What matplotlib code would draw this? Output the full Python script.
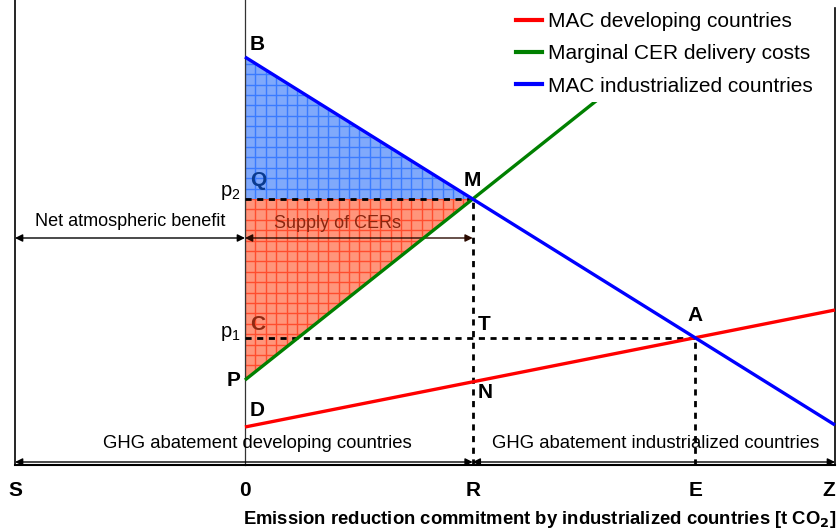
import numpy as np
import matplotlib
matplotlib.use("Agg")
import matplotlib.pyplot as plt
from matplotlib.patches import Polygon
from matplotlib.lines import Line2D

plt.rcParams['font.family'] = ['Liberation Sans', 'DejaVu Sans']
plt.rcParams['mathtext.default'] = 'regular'

# ---- data (diagram units) ----
axis_labels = ['S', '0', 'R', 'E', 'Z']
x_S, x_Z = -230, 590
curve_x = [0, 590]
mac_ind = [408, 40]        # MAC industrialized countries (B -> right edge)
mac_dev = [38, 155]        # MAC developing countries (D -> right edge)
cer_x = [0, 385]
cer_cost = [85, 391]       # Marginal CER delivery costs (P -> ...)
legend_labels = ['MAC developing countries', 'Marginal CER delivery costs',
                 'MAC industrialized countries']

def line_coef(xs, ys):
    m = (ys[1] - ys[0]) / (xs[1] - xs[0])
    return m, ys[0] - m * xs[0]

mi, bi = line_coef(curve_x, mac_ind)
md, bd = line_coef(curve_x, mac_dev)
mc, bc = line_coef(cer_x, cer_cost)
xM = (bc - bi) / (mi - mc); yM = mi * xM + bi
xA = (bd - bi) / (mi - md); yA = mi * xA + bi
x_R, x_E = xM, xA
p2, p1 = yM, yA

fig = plt.figure(figsize=(8.39, 5.31), dpi=100)
ax = fig.add_axes([0, 0, 1, 1])
ax.set_xlim(-245, 594)
ax.set_ylim(-66, 465)
ax.axis('off')

# filled triangles with grid
blue_tri = Polygon([[0, mac_ind[0]], [xM, yM], [0, yM]], closed=True,
                   facecolor='#80a9fb', edgecolor='none', zorder=1)
red_tri = Polygon([[0, yM], [xM, yM], [0, cer_cost[0]]], closed=True,
                  facecolor='#ff957b', edgecolor='none', zorder=1)
ax.add_patch(blue_tri)
ax.add_patch(red_tri)
step = 10.4
for tri, col in [(blue_tri, '#3a7bff'), (red_tri, '#ff4d2e')]:
    for gx in np.arange(0, xM + step, step):
        ln, = ax.plot([gx, gx], [0, 465], color=col, lw=1.0, zorder=1.5)
        ln.set_clip_path(tri)
    for gy in np.arange(yM - 30 * step, yM + 30 * step, step):
        ln, = ax.plot([0, xM], [gy, gy], color=col, lw=1.0, zorder=1.5)
        ln.set_clip_path(tri)

# frame lines
ax.plot([x_S, x_S], [0, 465], color='black', lw=1.2, zorder=2)
ax.plot([0, 0], [0, 465], color='#333333', lw=0.9, zorder=2)
ax.plot([x_Z, x_Z], [0, 457], color='black', lw=1.2, zorder=2)
ax.plot([x_S, x_Z], [0, 0], color='black', lw=1.5, zorder=2)

# dashed guides
dash = dict(color='black', lw=2.0, linestyle=(0, (2.2, 2.0)), zorder=3)
ax.plot([0, xM], [p2, p2], **dash)
ax.plot([0, xA], [p1, p1], **dash)
ax.plot([x_R, x_R], [0, yM], **dash)
ax.plot([x_E, x_E], [0, yA], **dash)

# curves
ax.plot(curve_x, mac_dev, color='#ff0000', lw=2.4, zorder=4, solid_capstyle='butt')
ax.plot(cer_x, cer_cost, color='#008000', lw=2.4, zorder=4, solid_capstyle='butt')
ax.plot(curve_x, mac_ind, color='#0000ff', lw=2.4, zorder=4, solid_capstyle='butt')

# arrows
def darrow(x0, x1, y, color='black'):
    ax.annotate('', xy=(x1, y), xytext=(x0, y),
                arrowprops=dict(arrowstyle='<|-|>', color=color, lw=1.0,
                                mutation_scale=11, shrinkA=0, shrinkB=0),
                zorder=3)

darrow(x_S, 0, 227)
darrow(0, x_R, 227, color='#2a0a00')
darrow(x_S, x_R, 3)
darrow(x_R, x_Z, 3)

# texts
fs = 13.3
ax.text(-115, 243, 'Net atmospheric benefit', ha='center', va='center', fontsize=13)
ax.text(92, 242, 'Supply of CERs', ha='center', va='center', fontsize=13, color='#8a2710')
ax.text(12, 22, 'GHG abatement developing countries', ha='center', va='center', fontsize=fs)
ax.text(411, 22, 'GHG abatement industrialized countries', ha='center', va='center', fontsize=fs)

bfs = 15
ax.text(5, 421, 'B', ha='left', va='center', fontsize=bfs, fontweight='bold')
ax.text(5, 284, 'Q', ha='left', va='center', fontsize=bfs, fontweight='bold', color='#0b3b8f')
ax.text(xM, yM + 19, 'M', ha='center', va='center', fontsize=bfs, fontweight='bold')
ax.text(5, 140, 'C', ha='left', va='center', fontsize=bfs, fontweight='bold', color='#8f2a12')
ax.text(x_R + 5, 140, 'T', ha='left', va='center', fontsize=bfs, fontweight='bold')
ax.text(-5, 85, 'P', ha='right', va='center', fontsize=bfs, fontweight='bold')
ax.text(5, 55, 'D', ha='left', va='center', fontsize=bfs, fontweight='bold')
ax.text(x_R + 5, 73, 'N', ha='left', va='center', fontsize=bfs, fontweight='bold')
ax.text(xA, yA + 22, 'A', ha='center', va='center', fontsize=bfs, fontweight='bold')
ax.text(-4, p2 + 7, r'p$_2$', ha='right', va='center', fontsize=14.5)
ax.text(-4, p1 + 4, r'p$_1$', ha='right', va='center', fontsize=14.5)

for lab, xv in zip(axis_labels, [x_S, 0, x_R, x_E, x_Z - 6]):
    ax.text(xv, -25, lab, ha='center', va='center', fontsize=bfs, fontweight='bold')

ax.text(591, -55, r'Emission reduction commitment by industrialized countries [t CO$_\mathbf{2}$]',
        ha='right', va='center', fontsize=13.3, fontweight='bold')

# legend
handles = [Line2D([], [], color=c, lw=3) for c in ['#ff0000', '#008000', '#0000ff']]
leg = ax.legend(handles, legend_labels, loc='upper left',
                bbox_to_anchor=(510 / 839, 1.0 - 6 / 531), fontsize=15, frameon=True,
                handlelength=1.25, handletextpad=0.25, labelspacing=0.63,
                borderpad=0.3, borderaxespad=0, fancybox=False)
leg.get_frame().set_facecolor('white')
leg.get_frame().set_edgecolor('none')
leg.get_frame().set_alpha(1)
leg.set_zorder(10)

fig.savefig('out.png', dpi=100)
